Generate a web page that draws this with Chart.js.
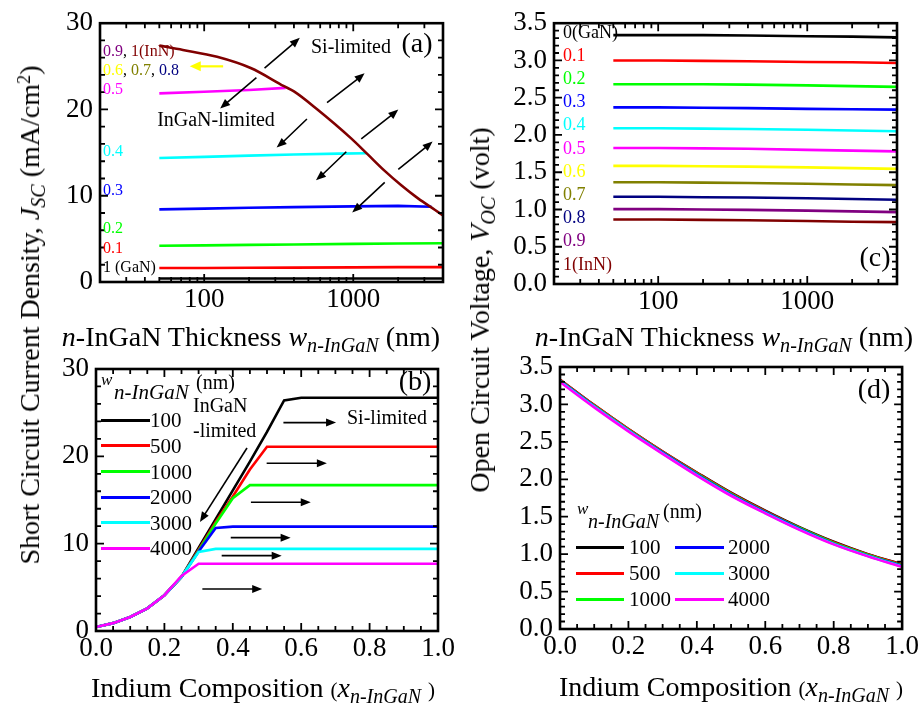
<!DOCTYPE html>
<html><head><meta charset="utf-8">
<script src="https://cdn.jsdelivr.net/npm/chart.js@4.4.1/dist/chart.umd.min.js"></script>
<style>
html,body{margin:0;padding:0;background:#fff;}
body{position:relative;width:921px;height:706px;overflow:hidden;font-family:"Liberation Serif","Times New Roman",serif;color:#000;}
canvas{position:absolute;left:0;top:0;}
.t{position:absolute;white-space:nowrap;line-height:1;}
.sub{font-size:0.72em;position:relative;top:0.32em;}
.sup{font-size:0.65em;position:relative;top:-0.5em;}
.ls{position:absolute;height:3px;}
</style></head><body>
<canvas id="ca" width="921" height="706"></canvas>
<canvas id="cb" width="921" height="706"></canvas>
<canvas id="cc" width="921" height="706"></canvas>
<canvas id="cd" width="921" height="706"></canvas>
<script>
// ================= DATA =================
// shared axis ticks
const thicknessTicks = [20,30,40,50,60,70,80,90,100,200,300,400,500,600,700,800,900,1000,2000,3000,4000];
const thicknessLabels = [100, 1000];

// Panel (a): Jsc (mA/cm2) vs n-InGaN thickness (nm), per indium composition
const wA = [50, 100, 200, 400, 1000, 2000, 4000];
const jscA_x00 = [0.40, 0.40, 0.40, 0.40, 0.40, 0.40, 0.40];
const jscA_x01 = [1.62, 1.63, 1.65, 1.67, 1.70, 1.72, 1.73];
const jscA_x02 = [4.20, 4.25, 4.30, 4.35, 4.42, 4.47, 4.50];
const wA_x03 = [50, 100, 200, 400, 1000, 2000, 3350];
const jscA_x03 = [8.42, 8.50, 8.60, 8.68, 8.77, 8.82, 8.72];
const wA_x04 = [50, 100, 200, 400, 800, 1230];
const jscA_x04 = [14.38, 14.50, 14.65, 14.78, 14.88, 14.92];
const wA_x05 = [50, 100, 200, 352];
const jscA_x05 = [21.86, 22.05, 22.25, 22.50];
const wA_x09 = [50, 72, 122, 205, 343, 400, 575, 968, 1256, 1626, 2109, 2734, 3540, 4000];
const jscA_x09 = [27.4, 26.9, 26.1, 24.8, 22.7, 22.1, 20.0, 16.65, 14.76, 12.88, 11.18, 9.66, 8.35, 7.72];

// Panel (b): Jsc vs indium composition, per thickness
const compB = [0,0.05,0.1,0.15,0.2,0.25,0.3,0.35,0.4,0.45,0.5,0.55,0.6,0.65,0.7,0.75,0.8,0.85,0.9,0.95,1.0];
const jscB_100  = [0.45,0.9,1.6,2.6,4.1,6.2,9.5,12.8,16.1,19.4,22.8,26.4,26.7,26.7,26.7,26.7,26.7,26.7,26.7,26.7,26.7];
const jscB_500  = [0.45,0.9,1.6,2.6,4.1,6.2,9.3,12.5,15.4,18.5,21.1,21.1,21.1,21.1,21.1,21.1,21.1,21.1,21.1,21.1,21.1];
const jscB_1000 = [0.45,0.9,1.6,2.6,4.1,6.2,9.2,12.3,15.2,16.7,16.7,16.7,16.7,16.7,16.7,16.7,16.7,16.7,16.7,16.7,16.7];
const jscB_2000 = [0.45,0.9,1.6,2.6,4.1,6.2,9.1,11.8,11.95,11.95,11.95,11.95,11.95,11.95,11.95,11.95,11.95,11.95,11.95,11.95,11.95];
const jscB_3000 = [0.45,0.9,1.6,2.6,4.1,6.2,9.05,9.4,9.4,9.4,9.4,9.4,9.4,9.4,9.4,9.4,9.4,9.4,9.4,9.4,9.4];
const jscB_4000 = [0.45,0.9,1.6,2.6,4.1,6.3,7.7,7.7,7.7,7.7,7.7,7.7,7.7,7.7,7.7,7.7,7.7,7.7,7.7,7.7,7.7];
const thicknessNames = ['100','500','1000','2000','3000','4000'];

// Panel (c): Voc (V) vs thickness, per composition
const wC = [50, 100, 200, 400, 1000, 2000, 4000];
const vocC_x00 = [3.34, 3.34, 3.34, 3.335, 3.325, 3.32, 3.31];
const vocC_x01 = [3.00, 3.00, 2.995, 2.99, 2.98, 2.975, 2.965];
const vocC_x02 = [2.68, 2.68, 2.68, 2.675, 2.665, 2.655, 2.645];
const vocC_x03 = [2.37, 2.37, 2.365, 2.36, 2.35, 2.345, 2.34];
const vocC_x04 = [2.09, 2.09, 2.085, 2.08, 2.07, 2.06, 2.05];
const vocC_x05 = [1.825, 1.825, 1.82, 1.815, 1.80, 1.79, 1.78];
const vocC_x06 = [1.585, 1.585, 1.58, 1.575, 1.565, 1.555, 1.545];
const vocC_x07 = [1.365, 1.365, 1.36, 1.355, 1.345, 1.335, 1.327];
const vocC_x08 = [1.17, 1.17, 1.165, 1.16, 1.15, 1.14, 1.13];
const vocC_x09 = [1.005, 1.005, 1.0, 0.995, 0.985, 0.975, 0.965];
const vocC_x10 = [0.865, 0.865, 0.86, 0.855, 0.845, 0.835, 0.83];
const compNamesC = ['0(GaN)','0.1','0.2','0.3','0.4','0.5','0.6','0.7','0.8','0.9','1(InN)'];

// Panel (d): Voc vs composition, per thickness
const compD = [0,0.1,0.2,0.3,0.4,0.5,0.6,0.7,0.8,0.9,1.0];
const vocD_100  = [3.33, 2.99, 2.67, 2.37, 2.09, 1.82, 1.58, 1.36, 1.165, 1.0, 0.865];
const vocD_500  = [3.33, 2.99, 2.67, 2.37, 2.085, 1.815, 1.575, 1.355, 1.16, 0.995, 0.86];
const vocD_1000 = [3.32, 2.98, 2.66, 2.36, 2.075, 1.805, 1.565, 1.35, 1.15, 0.99, 0.85];
const vocD_2000 = [3.315, 2.975, 2.655, 2.355, 2.065, 1.795, 1.56, 1.34, 1.14, 0.98, 0.845];
const vocD_3000 = [3.31, 2.97, 2.65, 2.345, 2.055, 1.785, 1.55, 1.33, 1.135, 0.975, 0.835];
const vocD_4000 = [3.30, 2.96, 2.64, 2.34, 2.05, 1.78, 1.545, 1.325, 1.13, 0.97, 0.83];

// ================= STYLE =================
const FONT = 'Liberation Serif';
const C = {black:'#000000', red:'#ff0000', green:'#00ff00', blue:'#0000ff', cyan:'#00ffff', magenta:'#ff00ff',
  yellow:'#ffff00', olive:'#808000', navy:'#000080', purple:'#800080', maroon:'#800000'};
const thickColors = [C.black, C.red, C.green, C.blue, C.cyan, C.magenta];
const compColors = [C.black, C.red, C.green, C.blue, C.cyan, C.magenta, C.yellow, C.olive, C.navy, C.purple, C.maroon];

const W = 921, H = 706, AXW = 50, AXH = 40;
function pad(L,T,R,B){ return {left:L-AXW, top:T, right:W-R, bottom:H-B-AXH}; }
function pts(xs, ys){ return xs.map((x,i)=>({x:x, y:ys[i]})); }
function ds(label, xs, ys, color, extra){
  return Object.assign({label, data:pts(xs,ys), borderColor:color, backgroundColor:color,
    borderWidth:2.6, pointRadius:0, fill:false, tension:0}, extra||{});
}
const isMult = m => v => Math.abs(v/m - Math.round(v/m)) < 1e-6;
function axisCommon(isX){
  return {
    grid:{display:false, drawTicks:false},
    border:{display:false},
    afterFit: isX ? (s=>{s.height=AXH;}) : (s=>{s.width=AXW;}),
    ticks:{autoSkip:false, maxRotation:0, minRotation:0, padding:isX?2:7, color:'#000', font:{family:FONT, size:27}}
  };
}
function linAxis(isX, min, max, step, labelFn){
  const a = axisCommon(isX); a.type='linear'; a.min=min; a.max=max;
  a.ticks.stepSize = step; a.ticks.callback = labelFn; return a;
}
function logAxis(min, max, tickVals, labelVals){
  const a = axisCommon(true); a.type='logarithmic'; a.min=min; a.max=max;
  a.afterBuildTicks = s => { s.ticks = tickVals.map(v=>({value:v})); };
  a.ticks.callback = v => labelVals.includes(v) ? String(v) : '';
  return a;
}

// frame + inward ticks + arrows plugin
const frameCfg = {};
function drawArrow(ctx, xs, ys, ar){
  const P = p => [xs.getPixelForValue(p[0]), ys.getPixelForValue(p[1])];
  const a = P(ar.from), b = P(ar.to);
  const col = ar.color || '#000';
  const hl = ar.hl || 10, hw = ar.hw || 4;
  ctx.strokeStyle = col; ctx.fillStyle = col; ctx.lineWidth = ar.lw || 1.6;
  const dx = b[0]-a[0], dy = b[1]-a[1], L = Math.hypot(dx,dy), ux = dx/L, uy = dy/L;
  const s = ar.heads === 'both' ? [a[0]+ux*hl*0.8, a[1]+uy*hl*0.8] : a;
  const e = [b[0]-ux*hl*0.8, b[1]-uy*hl*0.8];
  ctx.beginPath();
  if (ar.gap){
    const g1 = P(ar.gap[0]), g2 = P(ar.gap[1]);
    ctx.moveTo(s[0],s[1]); ctx.lineTo(g1[0],g1[1]);
    ctx.moveTo(g2[0],g2[1]); ctx.lineTo(e[0],e[1]);
  } else { ctx.moveTo(s[0],s[1]); ctx.lineTo(e[0],e[1]); }
  ctx.stroke();
  const head = (tip, ux, uy) => {
    ctx.beginPath();
    ctx.moveTo(tip[0], tip[1]);
    ctx.lineTo(tip[0]-ux*hl - uy*hw, tip[1]-uy*hl + ux*hw);
    ctx.lineTo(tip[0]-ux*hl + uy*hw, tip[1]-uy*hl - ux*hw);
    ctx.closePath(); ctx.fill();
  };
  head(b, ux, uy);
  if (ar.heads === 'both') head(a, -ux, -uy);
}
const framePlugin = {
  id:'frame',
  afterDatasetsDraw(chart){
    const cfg = frameCfg[chart.canvas.id]; if(!cfg) return;
    const ctx = chart.ctx, a = chart.chartArea, xs = chart.scales.x, ys = chart.scales.y;
    ctx.save();
    ctx.strokeStyle = '#000'; ctx.lineWidth = 1.8;
    ctx.beginPath();
    xs.ticks.forEach(t=>{
      const p = xs.getPixelForValue(t.value);
      if (p < a.left+1 || p > a.right-1) return;
      const len = cfg.xMajor(t.value) ? 8 : 5;
      ctx.moveTo(p, a.bottom); ctx.lineTo(p, a.bottom-len);
      ctx.moveTo(p, a.top); ctx.lineTo(p, a.top+len);
    });
    ys.ticks.forEach(t=>{
      const p = ys.getPixelForValue(t.value);
      if (p < a.top+1 || p > a.bottom-1) return;
      const len = cfg.yMajor(t.value) ? 8 : 5;
      ctx.moveTo(a.left, p); ctx.lineTo(a.left+len, p);
      ctx.moveTo(a.right, p); ctx.lineTo(a.right-len, p);
    });
    ctx.stroke();
    ctx.lineWidth = 2.6;
    ctx.strokeRect(a.left, a.top, a.right-a.left, a.bottom-a.top);
    (cfg.arrows||[]).forEach(ar=>drawArrow(ctx, xs, ys, ar));
    ctx.restore();
  }
};
function makeChart(id, datasets, scales, padding, frame){
  frameCfg[id] = frame;
  return new Chart(document.getElementById(id), {
    type:'line', data:{datasets},
    options:{responsive:false, animation:false, devicePixelRatio:1, events:[],
      layout:{padding}, plugins:{legend:{display:false}, tooltip:{enabled:false}}, scales},
    plugins:[framePlugin]
  });
}
const yLabel10 = v => isMult(10)(v) ? String(Math.round(v)) : '';
const lab = m => v => isMult(m)(v) ? v.toFixed(1) : '';
const smooth = {cubicInterpolationMode:'monotone'};

// ---------- (a) ----------
makeChart('ca', [
  ds('0.9, 1(InN)', wA_x09, jscA_x09, C.maroon, smooth),
  ds('0.5', wA_x05, jscA_x05, C.magenta),
  ds('0.4', wA_x04, jscA_x04, C.cyan),
  ds('0.3', wA_x03, jscA_x03, C.blue),
  ds('0.2', wA, jscA_x02, C.green),
  ds('0.1', wA, jscA_x01, C.red),
  ds('0 (GaN)', wA, jscA_x00, C.black)
], {x:logAxis(20,4000,thicknessTicks,thicknessLabels), y:linAxis(false,0,30,2,yLabel10)},
pad(100,17,443,282),
{xMajor:v=>thicknessLabels.includes(v), yMajor:isMult(10), arrows:[
  {from:[128,20.1], to:[438,28.3], gap:[[224,23.7],[254,24.8]], heads:'both'},
  {from:[306,15.6], to:[1191,24.2], gap:[[489,18.9],[667,20.8]], heads:'both'},
  {from:[562,11.8], to:[2005,20.0], gap:[[898,15.1],[1132,16.6]], heads:'both'},
  {from:[984,8.07], to:[3404,16.3], gap:[[1626,11.55],[2005,13.06]], heads:'both'},
  {from:[134,25.0], to:[80,25.0], heads:'end', color:C.yellow, lw:2.2, hl:11, hw:5}
]});

// ---------- (b) ----------
const jscB = [jscB_100, jscB_500, jscB_1000, jscB_2000, jscB_3000, jscB_4000];
makeChart('cb', jscB.map((v,i)=>ds(thicknessNames[i], compB, v, thickColors[i], {order:6-i})),
{x:linAxis(true,0,1,0.05,lab(0.2)), y:linAxis(false,0,30,2,yLabel10)},
pad(96,369,438,631),
{xMajor:isMult(0.2), yMajor:isMult(10), arrows:[
  {from:[0.4415,20.96], to:[0.304,12.49], heads:'end'},
  {from:[0.548,23.86], to:[0.702,23.86], heads:'end'},
  {from:[0.499,19.2], to:[0.675,19.2], heads:'end'},
  {from:[0.453,14.74], to:[0.628,14.74], heads:'end'},
  {from:[0.394,10.69], to:[0.569,10.69], heads:'end'},
  {from:[0.3675,8.63], to:[0.543,8.63], heads:'end'},
  {from:[0.311,4.81], to:[0.486,4.81], heads:'end'}
]});

// ---------- (c) ----------
const vocC = [vocC_x00,vocC_x01,vocC_x02,vocC_x03,vocC_x04,vocC_x05,vocC_x06,vocC_x07,vocC_x08,vocC_x09,vocC_x10];
makeChart('cc', vocC.map((v,i)=>ds(compNamesC[i], wC, v, compColors[i])),
{x:logAxis(20,4000,thicknessTicks,thicknessLabels), y:linAxis(false,0,3.5,0.1,lab(0.5))},
pad(554,21,897,284),
{xMajor:v=>thicknessLabels.includes(v), yMajor:isMult(0.5)});

// ---------- (d) ----------
const vocD = [vocD_100, vocD_500, vocD_1000, vocD_2000, vocD_3000, vocD_4000];
makeChart('cd', vocD.map((v,i)=>ds(thicknessNames[i], compD, v, thickColors[i], Object.assign({order:6-i}, smooth))),
{x:linAxis(true,0,1,0.05,lab(0.2)), y:linAxis(false,0,3.5,0.1,lab(0.5))},
pad(560,367,903,629),
{xMajor:isMult(0.2), yMajor:isMult(0.5)});

// ================= TEXT OVERLAYS =================
function T(html, x, y, size, opt){
  opt = opt || {};
  const d = document.createElement('div');
  d.className = 't'; d.innerHTML = html;
  d.style.left = x+'px'; d.style.top = y+'px'; d.style.fontSize = size+'px';
  d.style.transform = opt.tf || 'translate(0,-50%)';
  if (opt.color) d.style.color = opt.color;
  if (opt.italic) d.style.fontStyle = 'italic';
  document.body.appendChild(d);
}
const CEN = {tf:'translate(-50%,-50%)'};
const ROT = {tf:'translate(-50%,-50%) rotate(-90deg)'};
function sp(t,c){ return '<span style="color:'+c+'">'+t+'</span>'; }
function LS(x1,x2,y,c){
  const d = document.createElement('div'); d.className='ls';
  d.style.left=x1+'px'; d.style.width=(x2-x1)+'px'; d.style.top=(y-1.5)+'px'; d.style.background=c;
  document.body.appendChild(d);
}

// axis titles
const thickTitle = '<i>n</i>-InGaN Thickness <i>w</i><span class="sub"><i>n-InGaN</i></span> (nm)';
const compTitle = 'Indium Composition <span style="font-size:21px">(</span><i>x</i><span class="sub" style="font-size:20px"><i>n-InGaN</i></span> <span style="font-size:21px">)</span>';
T(thickTitle, 251, 337, 28, CEN);
T(thickTitle, 724, 337, 28, CEN);
T(compTitle, 263, 688, 28, CEN);
T(compTitle, 731, 687, 28, CEN);
T('Short Circuit Current Density, <i>J</i><span class="sub"><i>SC</i></span> (mA/cm<span class="sup">2</span>)', 30, 315, 28, ROT);
T('Open Circuit Voltage, <i>V</i><span class="sub"><i>OC</i></span> (volt)', 480, 310, 28, ROT);

// panel letters
T('(a)', 417, 43, 28, CEN);
T('(b)', 415, 381, 28, CEN);
T('(c)', 875, 257, 28, CEN);
T('(d)', 874, 389, 28, CEN);

// (a) annotations
T('Si-limited', 351, 46, 20, CEN);
T('InGaN-limited', 216, 119, 20, CEN);
T(sp('0.9',C.purple)+', '+sp('1(InN)',C.maroon), 103, 50.5, 16);
T(sp('0.6',C.yellow)+', '+sp('0.7',C.olive)+', '+sp('0.8',C.navy), 103, 69.5, 16);
T('0.5', 103, 89, 16, {color:C.magenta});
T('0.4', 103, 150.5, 16, {color:C.cyan});
T('0.3', 103, 190, 16, {color:C.blue});
T('0.2', 103, 228, 16, {color:C.green});
T('0.1', 103, 248, 16, {color:C.red});
T('1 (GaN)', 103, 267, 16);

// (c) labels
const cY = [32.3, 55, 77.7, 101, 124.3, 147.7, 171, 194.3, 217.3, 240, 264.3];
compNamesC.forEach((n,i)=>T(n, 563, cY[i], 18, {color:compColors[i]}));

// (b) annotations + legend
T('InGaN', 193, 405, 20);
T('-limited', 193, 430, 20);
T('Si-limited', 387, 417, 20, CEN);
T('w', 101, 379, 17, {italic:true});
T('n-InGaN', 114, 392, 21, {italic:true});
T('(nm)', 196, 382, 20);
const bRows = [420, 445.7, 471.5, 497.3, 522.7, 548.3];
thicknessNames.forEach((n,i)=>{ LS(101, 150, bRows[i], thickColors[i]); T(n, 150, bRows[i], 21); });

// (d) legend
T('w', 577, 508, 17, {italic:true});
T('n-InGaN', 588, 521, 20, {italic:true});
T('(nm)', 663, 511, 20);
const dRows = [547.3, 573.3, 599.3];
thicknessNames.forEach((n,i)=>{
  const col = Math.floor(i/3), r = i%3;
  const x1 = col ? 675 : 576, x2 = col ? 724 : 624, lx = col ? 728 : 629;
  LS(x1, x2, dRows[r], thickColors[i]); T(n, lx, dRows[r], 21);
});
</script></body></html>
